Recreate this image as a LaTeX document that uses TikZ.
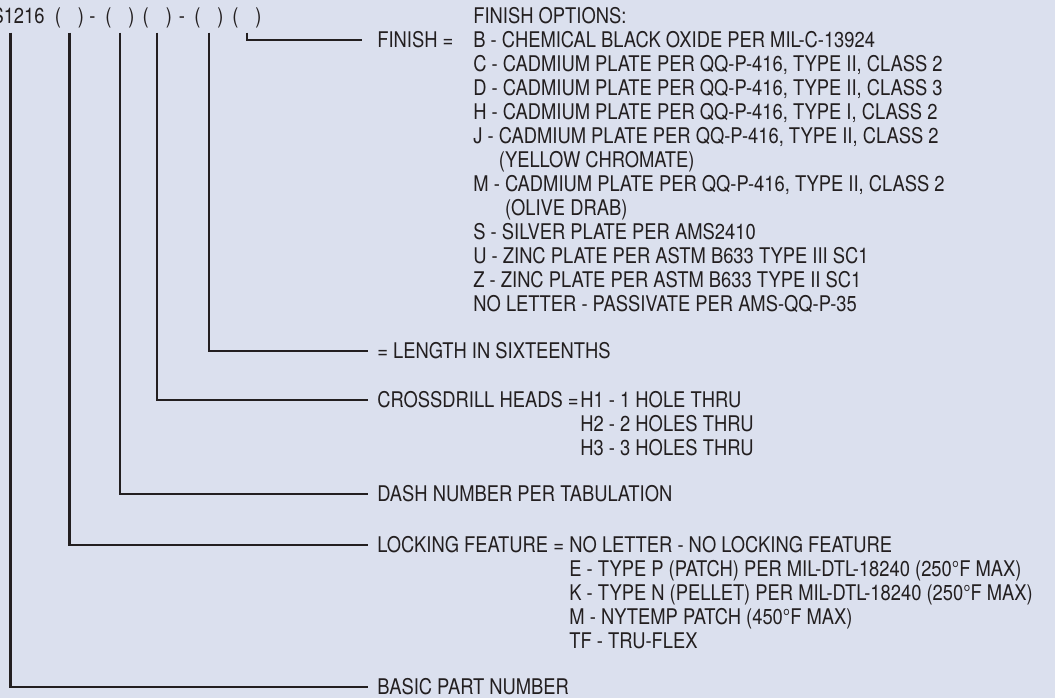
\documentclass[tikz,border=0pt]{standalone}
\usepackage{fontspec}
\setmainfont{TeX Gyre Heros}[FakeStretch=0.85]
\usepackage{tikz}
\definecolor{ink}{HTML}{231F20}
\definecolor{panel}{HTML}{DBE0EE}

\begin{document}
\begin{tikzpicture}[x=0.5pt, y=-0.5pt,
  every node/.style={font={\fontsize{10.8}{12}\selectfont}, text=ink},
  slot/.style={anchor=base, inner sep=2pt, text height=7.75pt, text depth=2.3pt},
  key/.style={anchor=west, inner xsep=4.5pt, inner ysep=0pt,
              text height=7.75pt, text depth=0pt},
  opts/.style={anchor=base west, align=left, inner sep=0pt},
  lead/.style={draw=ink, line width=1.1pt}]
  \fill[panel] (0,0) rectangle (1055,698);
  \useasboundingbox (0,0) rectangle (1055,698);
  % part number with its slots
  \node[slot, anchor=base east] (pn) at (49,23.5) {S1216};
  \foreach \x [count=\i] in {69.5,120,157.3,209,247}
    \node[slot] (s\i) at (\x,23.5) {(\hspace{8.5pt})};
  \node[slot] (hy1) at (92.5,23.5) {-};
  \node[slot] (hy2) at (182,23.5) {-};
  % labels at the leader ends
  \node[key] (fin) at (368,40) {FINISH =};
  \node[key] (len) at (368,351) {= LENGTH IN SIXTEENTHS};
  \node[key] (xd) at (368,400) {CROSSDRILL HEADS =};
  \node[key] (dash) at (368,494) {DASH NUMBER PER TABULATION};
  \node[key] (lock) at (368,545) {LOCKING FEATURE =};
  \node[key] (basic) at (368,687) {BASIC PART NUMBER};
  % option lists (placed by the baseline of their last line)
  \node[opts] (finopts) at (473,311.5) {FINISH OPTIONS:\\
    B - CHEMICAL BLACK OXIDE PER MIL-C-13924\\
    C - CADMIUM PLATE PER QQ-P-416, TYPE II, CLASS 2\\
    D - CADMIUM PLATE PER QQ-P-416, TYPE II, CLASS 3\\
    H - CADMIUM PLATE PER QQ-P-416, TYPE I, CLASS 2\\
    J - CADMIUM PLATE PER QQ-P-416, TYPE II, CLASS 2\\
    \phantom{J - }(YELLOW CHROMATE)\\
    M - CADMIUM PLATE PER QQ-P-416, TYPE II, CLASS 2\\
    \phantom{M - }(OLIVE DRAB)\\
    S - SILVER PLATE PER AMS2410\\
    U - ZINC PLATE PER ASTM B633 TYPE III SC1\\
    Z - ZINC PLATE PER ASTM B633 TYPE II SC1\\
    NO LETTER - PASSIVATE PER AMS-QQ-P-35};
  \node[opts] (xdopts) at (580,455.75) {H1 - 1 HOLE THRU\\
    H2 - 2 HOLES THRU\\
    H3 - 3 HOLES THRU};
  \node[opts] (lockopts) at (569,648.75) {NO LETTER - NO LOCKING FEATURE\\
    E - TYPE P (PATCH) PER MIL-DTL-18240 (250°F MAX)\\
    K - TYPE N (PELLET) PER MIL-DTL-18240 (250°F MAX)\\
    M - NYTEMP PATCH (450°F MAX)\\
    TF - TRU-FLEX};
  % leaders
  \draw[lead] ([xshift=-3.75pt]pn.south) |- (basic.west);
  \foreach \s/\t in {s1/lock, s2/dash, s3/xd, s4/len}
    \draw[lead] (\s.south) |- (\t.west);
  \draw[lead] (s5.south) |- ([xshift=-3pt]fin.west);
\end{tikzpicture}
\end{document}
